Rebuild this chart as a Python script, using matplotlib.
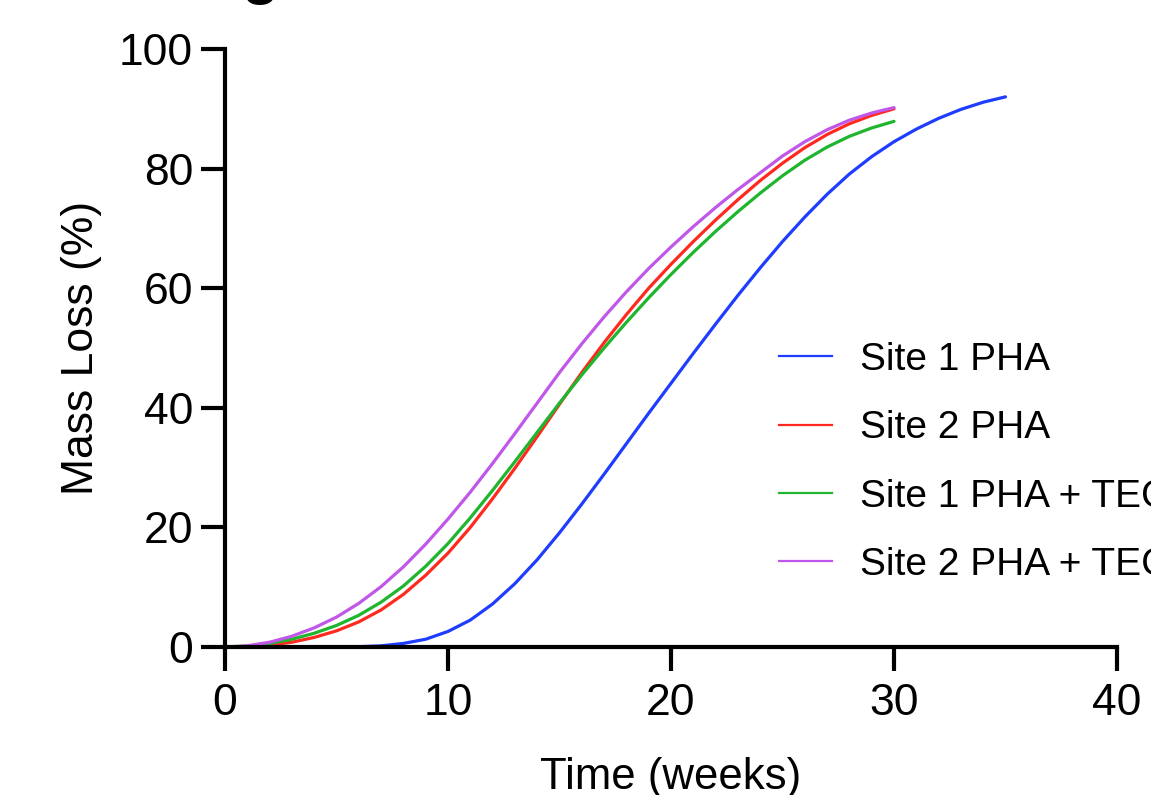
import matplotlib
matplotlib.use("Agg")
import matplotlib.pyplot as plt

plt.rcParams['font.family'] = ['Liberation Sans', 'DejaVu Sans']

weeks_30 = list(range(0, 31))
weeks_35 = list(range(0, 36))

site1_pha = [0, 0, 0, 0, 0, 0, 0.05, 0.2, 0.6, 1.3, 2.6, 4.5, 7.2, 10.6, 14.6, 19.1,
             23.9, 28.9, 34.0, 39.1, 44.1, 49.1, 54.0, 58.8, 63.4, 67.8, 71.9, 75.7,
             79.1, 82.0, 84.5, 86.6, 88.4, 89.9, 91.1, 92.0]
site2_pha = [0, 0.05, 0.3, 0.8, 1.6, 2.7, 4.2, 6.2, 8.8, 12.0, 15.7, 20.0, 24.8, 29.9,
             35.2, 40.6, 45.9, 50.9, 55.6, 60.0, 64.0, 67.8, 71.4, 74.8, 78.0, 80.9,
             83.5, 85.7, 87.5, 88.9, 90.0]
site1_pha_tec = [0, 0.15, 0.6, 1.3, 2.3, 3.6, 5.3, 7.5, 10.2, 13.5, 17.3, 21.6, 26.2,
                 31.0, 35.9, 40.8, 45.5, 50.0, 54.3, 58.4, 62.3, 66.0, 69.5, 72.8, 75.9,
                 78.8, 81.4, 83.6, 85.4, 86.8, 87.9]
site2_pha_tec = [0, 0.2, 0.8, 1.8, 3.2, 5.0, 7.3, 10.1, 13.4, 17.2, 21.4, 25.9, 30.7,
                 35.7, 40.8, 45.9, 50.7, 55.2, 59.4, 63.3, 66.9, 70.3, 73.5, 76.5, 79.3,
                 82.1, 84.5, 86.5, 88.1, 89.3, 90.2]

labels = ["Site 1 PHA", "Site 2 PHA", "Site 1 PHA + TEC", "Site 2 PHA + TEC"]
colors = ["#1f3dff", "#ff2a1f", "#1fb52e", "#c057e8"]

x_ticks = [0, 10, 20, 30, 40]
y_ticks = [0, 20, 40, 60, 80, 100]

W, H = 1151, 795
fig = plt.figure(figsize=(W / 100, H / 100), dpi=100)
ax = fig.add_axes([225 / W, (H - 647) / H, 892 / W, 598 / H])

series = [(weeks_35, site1_pha), (weeks_30, site2_pha),
          (weeks_30, site1_pha_tec), (weeks_30, site2_pha_tec)]
for (xs, ys), lab, c in zip(series, labels, colors):
    ax.plot(xs, ys, color=c, lw=2.3, label=lab, solid_capstyle='round',
            solid_joinstyle='round', clip_on=False)

ax.set_xlim(0, 40)
ax.set_ylim(0, 100)
ax.set_xticks(x_ticks)
ax.set_yticks(y_ticks)
for s in ['top', 'right']:
    ax.spines[s].set_visible(False)
for s in ['left', 'bottom']:
    ax.spines[s].set_linewidth(3)
ax.tick_params(axis='both', direction='out', length=17, width=3, labelsize=32)
ax.tick_params(axis='x', pad=9)
ax.tick_params(axis='y', pad=6)

ax.set_xlabel("Time (weeks)", fontsize=31.5, labelpad=24)
ax.set_ylabel("Mass Loss (%)", fontsize=32, labelpad=12)

leg_handles = [plt.Line2D([], [], color=c, lw=1.6) for c in colors]
fig.legend(leg_handles, labels, loc='upper left',
           bbox_to_anchor=(779 / W, (H - 342) / H), bbox_transform=fig.transFigure,
           frameon=False, fontsize=28, handlelength=1.36, handletextpad=0.72,
           labelspacing=0.83, borderpad=0, borderaxespad=0)

fig.text(260 / W, 1 + 8 / H, "g", fontsize=44, fontweight='bold', ha='center', va='baseline')

fig.savefig("out.png", dpi=100)
